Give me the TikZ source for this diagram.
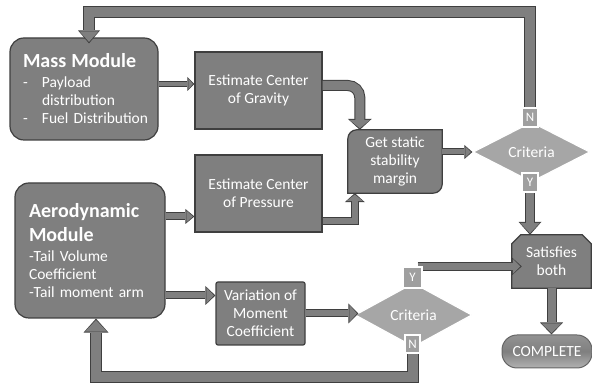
\documentclass[tikz,border=0pt]{standalone}
\usepackage{fontspec}
\setmainfont{Carlito}
\usetikzlibrary{arrows.meta,shapes.geometric}

\definecolor{boxgray}{HTML}{7F7F7F}
\definecolor{edgegray}{HTML}{3F3F3F}
\definecolor{diagray}{HTML}{A6A6A6}
\definecolor{taggray}{HTML}{9F9F9F}

\pgfdeclarelayer{background}
\pgfdeclarelayer{pipes}
\pgfdeclarelayer{front}
\pgfsetlayers{background,main,pipes,front}

\tikzset{
	modbox/.style={draw=edgegray, fill=boxgray, line width=1.2pt, rounded corners=14pt, text=white, align=left},
	taskbox/.style={draw=edgegray, fill=boxgray, line width=1.2pt, text=white, align=center, inner sep=0pt},
	checkbox/.style={diamond, draw=white, fill=diagray, line width=1.2pt, text=white, inner sep=0pt, minimum width=117pt},
	tag/.style={draw=white, fill=taggray, line width=1.2pt, text=white, font=\fontsize{13}{13}\selectfont, inner sep=0pt, minimum width=16pt, minimum height=19pt}
}

% block arrow: shaft width, head width, head length, path
\newcommand{\flowpipe}[4]{%
	\pgfmathsetmacro{\pipeinner}{#1-2}%
	\pgfmathsetmacro{\headinnerw}{#2-3}%
	\pgfmathsetmacro{\headinnerl}{#3-2.5}%
	\draw[edgegray, line width=#1pt, line join=miter, -{Triangle[width=#2pt, length=#3pt, line width=0pt]}] #4;
	\draw[boxgray, line width=\pipeinner pt, line join=miter, shorten >=1.5pt, -{Triangle[width=\headinnerw pt, length=\headinnerl pt, line width=0pt]}] #4;
}
\newcommand{\headfont}{\fontsize{20}{24}\selectfont\bfseries}

\begin{document}
\begin{tikzpicture}[x=1pt, y=1pt, font=\fontsize{15.5}{18}\selectfont]
	\useasboundingbox (0,0) rectangle (592,387);

	% modules
	\node[modbox, text width=128pt, inner xsep=10pt, minimum height=102pt] (mass) at (84,298)
		{\hspace*{3pt}{\headfont Mass Module}\\[2pt]\hspace*{3pt}\makebox[19pt][l]{-}Payload\\\hspace*{22pt}distribution\\\hspace*{3pt}\makebox[19pt][l]{-}\mbox{Fuel Distribution}};
	\node[modbox, text width=122pt, inner xsep=14pt, minimum height=135pt] (aero) at (90,136.5)
		{{\headfont Aerodynamic}\\[6pt]{\headfont Module}\\[2pt]-Tail Volume\\Coefficient\\-Tail moment arm};

	% tasks
	\node[taskbox, minimum width=127pt, minimum height=77pt] (cog) at (258.5,296.5) {Estimate Center\\of Gravity};
	\node[taskbox, minimum width=127pt, minimum height=77pt] (cop) at (258.5,193.5) {Estimate Center\\of Pressure};
	\node[taskbox, rounded corners=2pt, minimum width=89pt, minimum height=63pt] (var) at (260.5,73.5) {Variation of\\Moment\\Coefficient};
	\node[text=white, align=center, inner sep=0pt, minimum width=94pt, minimum height=63pt] (margin) at (395,225.5) {Get static\\stability\\margin};
	\node[text=white, align=center, inner sep=0pt, minimum width=79pt, minimum height=53pt] (sat) at (551.5,125.5) {Satisfies\\both};

	% decisions
	\node[checkbox, minimum height=60pt] (crit1) at (531.5,235) {Criteria};
	\node[checkbox, minimum height=64pt] (crit2) at (413.5,72) {Criteria};

	\node[draw=edgegray!80, line width=1pt, rounded corners=15pt, top color=gray!85, bottom color=gray!140!black, middle color=gray, text=white, inner sep=0pt, minimum width=90pt, minimum height=33pt] (done) at (547,35.5) {COMPLETE};

	\begin{pgfonlayer}{background}
		\filldraw[draw=edgegray, fill=boxgray, line width=1.2pt] ([xshift=9pt]margin.north west) -- (margin.north east) -- ([yshift=9pt]margin.south east) arc[start angle=0, end angle=-90, radius=9pt] -- (margin.south west) -- ([yshift=-9pt]margin.north west) arc[start angle=180, end angle=90, radius=9pt] -- cycle;
		\filldraw[draw=edgegray, fill=boxgray, line width=1.2pt] (sat.south west) -- ([yshift=-9pt]sat.north west) -- ([xshift=9pt]sat.north west) -- ([xshift=-9pt]sat.north east) -- ([yshift=-9pt]sat.north east) -- (sat.south east) -- cycle;
	\end{pgfonlayer}

	\begin{pgfonlayer}{front}
		\node[tag] (n1) at (530,269.5) {N};
		\node[tag] (y1) at (530,204.5) {Y};
		\node[tag, minimum width=19pt, minimum height=21pt] (y2) at (412.5,109.5) {Y};
		\node[tag, minimum width=15pt, minimum height=18pt] (n2) at (412.5,43) {N};
	\end{pgfonlayer}

	\coordinate (toprail) at (0,375);
	\coordinate (botrail) at (0,10);

	\begin{pgfonlayer}{pipes}
		\flowpipe{12}{22}{13}{(n1.north) -- (n1.north |- toprail) -| ([xshift=5pt,yshift=-6pt]mass.north)}
		\flowpipe{6}{14}{7}{([yshift=5pt]mass.east) -- ([yshift=5pt]mass.east -| cog.west)}
		\flowpipe{11}{24}{11}{[rounded corners=12pt] ([yshift=5pt]cog.east) -| ([xshift=12pt]margin.north west)}
		\flowpipe{8}{20}{9}{([yshift=-28pt]cop.east) -| ([xshift=7pt]margin.south west)}
		\flowpipe{7}{14}{8}{(margin.east |- crit1.west) -- (crit1.west)}
		\flowpipe{10}{23}{13}{(y1.south) -- (y1.south |- sat.north)}
		\flowpipe{10}{23}{12}{(sat.south) -- (sat.south |- done.north)}
		\flowpipe{8}{15}{9}{([yshift=34pt]aero.east) -- ([yshift=34pt]aero.east -| cop.west)}
		\flowpipe{8}{19}{10}{([yshift=-45pt]aero.east) -- ([yshift=-45pt]aero.east -| var.west)}
		\flowpipe{8}{20}{10}{(var.east) -- ([xshift=4pt]var.east -| crit2.west)}
		\flowpipe{9}{18}{10}{([xshift=-5pt]y2.north east) -- ([xshift=10pt]y2.north east -| sat.west)}
		\flowpipe{12}{25}{14}{(n2.south) -- (n2.south |- botrail) -| ([xshift=6pt]aero.south)}
	\end{pgfonlayer}
\end{tikzpicture}
\end{document}
